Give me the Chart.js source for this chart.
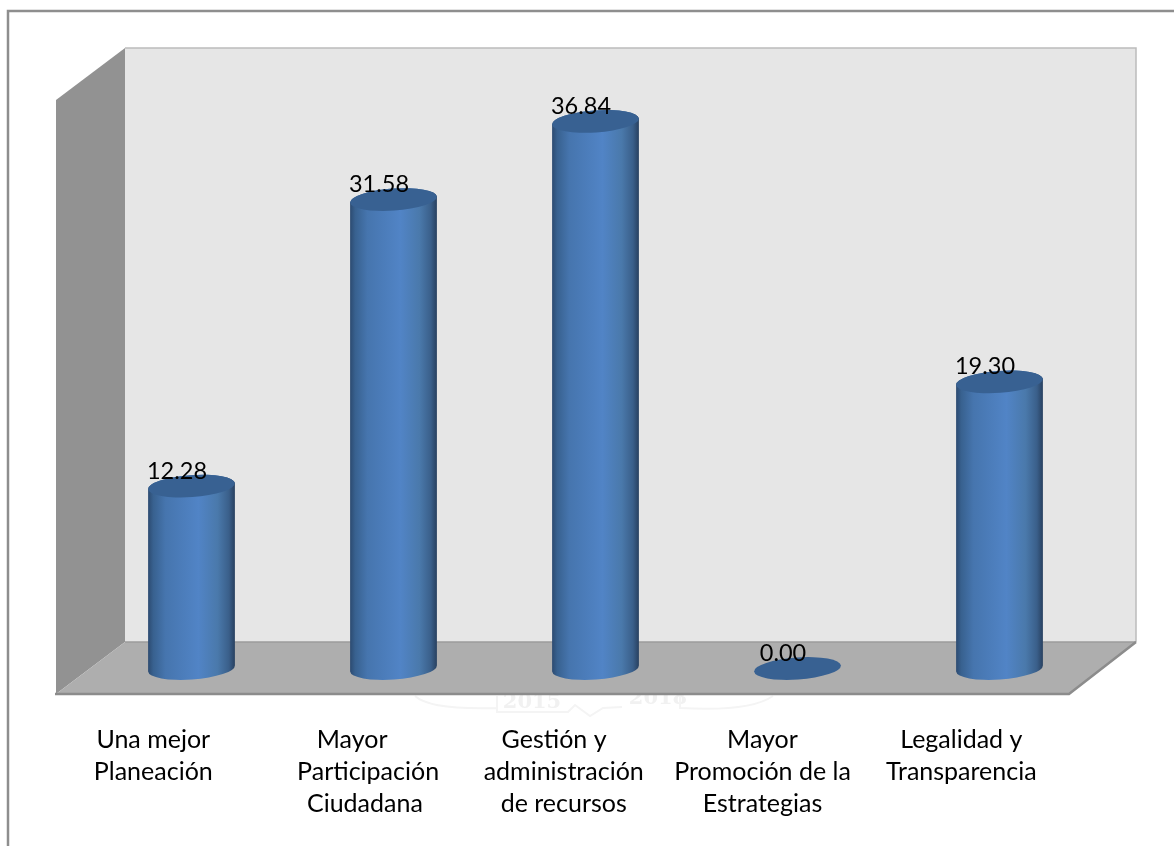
<!DOCTYPE html>
<html lang="es">
<head>
<meta charset="utf-8">
<title>Chart</title>
<script src="https://cdn.jsdelivr.net/npm/chart.js@4/dist/chart.umd.min.js"></script>
<style>
  html, body { margin: 0; padding: 0; background: #fff; }
  canvas { display: block; }
</style>
</head>
<body>
<canvas id="plot1" width="1174" height="846"></canvas>
<script>
// spaces kept on purpose: the source cells are not evenly centred
const categories = [
  ['Una mejor ', 'Planeación '],
  ['Mayor  ', '   Participación', '  Ciudadana'],
  ['Gestión y  ', ' administración', ' de recursos'],
  ['Mayor', 'Promoción de la', 'Estrategias'],
  ['Legalidad y ', 'Transparencia ']
];
const values = [12.28, 31.58, 36.84, 0.00, 19.30];
const yMin = 0;
const yMax = 40;

const fontFamily = 'Lato, "Open Sans", sans-serif';

// walls and floor of the fake 3D box, drawn around the chart area
const box3d = {
  id: 'box3d',
  beforeDatasetsDraw(chart) {
    const { ctx, chartArea: a } = chart;
    const backL = a.left + 34.5, backR = a.right + 35.5;
    const frontL = a.left - 34.5, frontR = a.right - 31.5;
    const backTop = a.top - 26.5, backBot = a.bottom - 26.5;
    const frontTop = a.top + 25.5, frontBot = a.bottom + 25.5;

    // outer frame, only top and left survive in the picture
    ctx.save();
    ctx.strokeStyle = '#8e8e8e';
    ctx.lineWidth = 2.5;
    ctx.beginPath();
    ctx.moveTo(8, 846);
    ctx.lineTo(8, 11);
    ctx.lineTo(1174, 11);
    ctx.stroke();

    // faint watermark under the floor
    ctx.fillStyle = '#f1f1f1';
    ctx.font = 'bold 21px "DejaVu Serif", serif';
    ctx.textAlign = 'center';
    ctx.textBaseline = 'middle';
    ctx.fillText('2015', 532, 703);
    ctx.fillText('2018', 658, 699);
    ctx.strokeStyle = '#f4f4f4';
    ctx.lineWidth = 2;
    ctx.beginPath();
    ctx.moveTo(415, 696);
    ctx.quadraticCurveTo(430, 710, 497, 708);
    ctx.moveTo(497, 696);
    ctx.lineTo(497, 712);
    ctx.lineTo(568, 712);
    ctx.lineTo(575, 705);
    ctx.lineTo(590, 716);
    ctx.lineTo(603, 708);
    ctx.lineTo(622, 707);
    ctx.moveTo(680, 696);
    ctx.lineTo(680, 708);
    ctx.quadraticCurveTo(750, 712, 773, 696);
    ctx.stroke();

    // back wall
    ctx.fillStyle = '#e6e6e6';
    ctx.fillRect(backL, backTop, backR - backL, backBot - backTop);
    ctx.strokeStyle = '#bcbcbc';
    ctx.lineWidth = 1.5;
    ctx.beginPath();
    ctx.moveTo(backL, backTop);
    ctx.lineTo(backR, backTop);
    ctx.lineTo(backR, backBot);
    ctx.stroke();

    // left wall
    ctx.fillStyle = '#929292';
    ctx.beginPath();
    ctx.moveTo(frontL, frontTop);
    ctx.lineTo(backL, backTop);
    ctx.lineTo(backL, backBot);
    ctx.lineTo(frontL, frontBot);
    ctx.closePath();
    ctx.fill();

    // floor
    ctx.fillStyle = '#aeaeae';
    ctx.beginPath();
    ctx.moveTo(frontL, frontBot);
    ctx.lineTo(backL, backBot);
    ctx.lineTo(backR, backBot);
    ctx.lineTo(frontR, frontBot);
    ctx.closePath();
    ctx.fill();
    ctx.strokeStyle = '#9b9b9b';
    ctx.lineWidth = 1.5;
    ctx.beginPath();
    ctx.moveTo(backL, backBot);
    ctx.lineTo(backR, backBot);
    ctx.stroke();
    ctx.strokeStyle = '#8c8c8c';
    ctx.lineWidth = 2.5;
    ctx.beginPath();
    ctx.moveTo(frontL - 1, frontBot);
    ctx.lineTo(frontR, frontBot);
    ctx.lineTo(backR, backBot);
    ctx.stroke();
    ctx.restore();
  }
};

// bars are painted as cylinders, from the bar elements' own geometry
const cylinders = {
  id: 'cylinders',
  beforeDatasetDraw(chart, args) {
    const { ctx } = chart;
    const ry = 11, tilt = -0.07;
    args.meta.data.forEach((bar) => {
      const rx = bar.width / 2;
      const left = bar.x - rx;
      ctx.save();
      if (bar.base - bar.y > 1) {
        const g = ctx.createLinearGradient(left, 0, left + bar.width, 0);
        g.addColorStop(0, '#2c4a70');
        g.addColorStop(0.06, '#38618f');
        g.addColorStop(0.2, '#4675ae');
        g.addColorStop(0.58, '#5184c6');
        g.addColorStop(0.8, '#4a79ab');
        g.addColorStop(0.93, '#3a5f8a');
        g.addColorStop(1, '#28405f');
        ctx.fillStyle = g;
        ctx.beginPath();
        ctx.ellipse(bar.x, bar.y, rx, ry, tilt, Math.PI, Math.PI * 2);
        ctx.ellipse(bar.x, bar.base, rx, ry, tilt, 0, Math.PI);
        ctx.closePath();
        ctx.fill();
      }
      ctx.fillStyle = '#386192';
      ctx.beginPath();
      ctx.ellipse(bar.x, bar.y, rx, ry, tilt, 0, Math.PI * 2);
      ctx.fill();
      ctx.restore();
    });
    return false;
  }
};

const valueLabels = {
  id: 'valueLabels',
  afterDatasetsDraw(chart) {
    const { ctx } = chart;
    const meta = chart.getDatasetMeta(0);
    ctx.save();
    ctx.fillStyle = '#000';
    ctx.font = '23.5px ' + fontFamily;
    ctx.textAlign = 'center';
    ctx.textBaseline = 'middle';
    meta.data.forEach((bar, i) => {
      ctx.fillText(values[i].toFixed(2), bar.x - 14.5, bar.y - 15);
    });
    ctx.restore();
  }
};

new Chart(document.getElementById('plot1').getContext('2d'), {
  type: 'bar',
  data: {
    labels: categories,
    datasets: [{
      data: values,
      backgroundColor: '#4f81bd',
      barThickness: 87
    }]
  },
  options: {
    responsive: false,
    animation: false,
    layout: { padding: { left: 90.5, right: 73.5, top: 74.5, bottom: 0 } },
    plugins: {
      legend: { display: false },
      tooltip: { enabled: false }
    },
    scales: {
      x: {
        grid: { display: false },
        border: { display: false },
        afterFit(scale) { scale.height = 177.5; },
        ticks: {
          autoSkip: false,
          maxRotation: 0,
          minRotation: 0,
          labelOffset: -35,
          padding: 47,
          color: '#000',
          font: { family: fontFamily, size: 25, lineHeight: 1.29 }
        }
      },
      y: {
        display: false,
        min: yMin,
        max: yMax
      }
    }
  },
  plugins: [box3d, cylinders, valueLabels]
});
</script>
</body>
</html>
